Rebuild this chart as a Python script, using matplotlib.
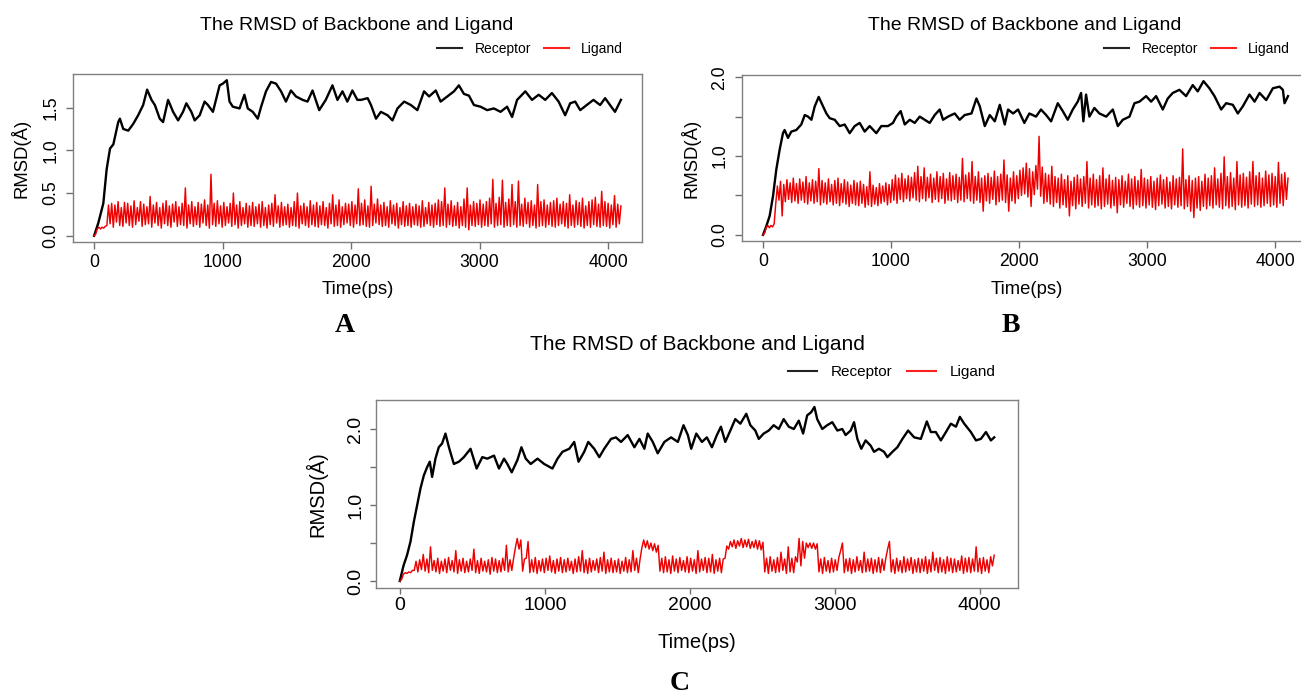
import numpy as np
import matplotlib
matplotlib.use('Agg')
import matplotlib.pyplot as plt
from matplotlib.lines import Line2D

plt.rcParams['font.family'] = ['Liberation Sans', 'DejaVu Sans']

W, H = 1301, 693

# backbone (receptor) RMSD: time [ps], value [A]
rec_a_t = [0, 33, 72, 98, 124, 150, 188, 201, 227, 266, 305, 343, 382, 413, 447, 473, 511, 537, 576, 615,
           654, 692, 718, 757, 783, 822, 860, 886, 925, 977, 1002, 1033, 1054, 1080, 1132, 1170, 1196, 1235,
           1274, 1300, 1338, 1377, 1416, 1455, 1493, 1532, 1571, 1623, 1661, 1700, 1752, 1803, 1855, 1894,
           1933, 1971, 2010, 2049, 2077, 2129, 2155, 2194, 2232, 2284, 2322, 2361, 2413, 2465, 2516, 2568,
           2607, 2659, 2697, 2749, 2801, 2839, 2878, 2917, 2956, 3008, 3059, 3111, 3163, 3214, 3253, 3292,
           3356, 3408, 3460, 3511, 3563, 3615, 3666, 3705, 3744, 3783, 3834, 3886, 3938, 3977, 4015, 4054, 4100]
rec_a_v = [0.00, 0.15, 0.38, 0.78, 1.02, 1.07, 1.33, 1.37, 1.25, 1.23, 1.31, 1.41, 1.53, 1.71, 1.59, 1.53, 1.37,
           1.33, 1.59, 1.45, 1.35, 1.45, 1.55, 1.45, 1.35, 1.41, 1.57, 1.53, 1.45, 1.76, 1.78, 1.82, 1.57, 1.51,
           1.49, 1.65, 1.49, 1.45, 1.37, 1.51, 1.69, 1.80, 1.78, 1.69, 1.57, 1.70, 1.63, 1.59, 1.57, 1.70, 1.47,
           1.59, 1.76, 1.59, 1.69, 1.57, 1.70, 1.59, 1.59, 1.61, 1.53, 1.37, 1.45, 1.41, 1.35, 1.49, 1.57, 1.53,
           1.47, 1.69, 1.63, 1.70, 1.57, 1.63, 1.69, 1.76, 1.66, 1.64, 1.53, 1.51, 1.47, 1.49, 1.45, 1.51, 1.39,
           1.59, 1.69, 1.59, 1.65, 1.59, 1.67, 1.57, 1.41, 1.55, 1.57, 1.47, 1.53, 1.59, 1.53, 1.61, 1.53, 1.45, 1.59]

rec_b_t = [0, 26, 52, 78, 104, 130, 156, 169, 195, 221, 260, 299, 326, 352, 378, 404, 435, 469, 495, 521, 560,
           599, 638, 677, 716, 755, 794, 833, 885, 924, 976, 1015, 1041, 1075, 1107, 1146, 1185, 1224, 1263,
           1302, 1341, 1380, 1406, 1445, 1497, 1536, 1575, 1628, 1667, 1693, 1732, 1771, 1810, 1849, 1888,
           1914, 1953, 1992, 2041, 2080, 2132, 2171, 2211, 2250, 2302, 2341, 2380, 2419, 2458, 2484, 2502,
           2523, 2549, 2588, 2627, 2680, 2732, 2771, 2810, 2862, 2901, 2940, 2992, 3031, 3070, 3122, 3161,
           3200, 3252, 3304, 3356, 3395, 3440, 3486, 3526, 3578, 3617, 3669, 3708, 3747, 3799, 3839, 3878,
           3930, 3982, 4034, 4060, 4073, 4100]
rec_b_v = [0.00, 0.11, 0.24, 0.49, 0.83, 1.08, 1.29, 1.33, 1.23, 1.31, 1.33, 1.40, 1.52, 1.50, 1.46, 1.63, 1.75,
           1.63, 1.54, 1.48, 1.46, 1.38, 1.40, 1.29, 1.38, 1.42, 1.31, 1.38, 1.29, 1.38, 1.38, 1.42, 1.50, 1.57,
           1.40, 1.46, 1.42, 1.50, 1.46, 1.42, 1.52, 1.59, 1.46, 1.50, 1.54, 1.46, 1.52, 1.54, 1.73, 1.63, 1.38,
           1.52, 1.44, 1.65, 1.40, 1.59, 1.54, 1.59, 1.42, 1.54, 1.50, 1.59, 1.52, 1.44, 1.67, 1.57, 1.46, 1.59,
           1.69, 1.80, 1.44, 1.78, 1.50, 1.61, 1.54, 1.50, 1.59, 1.38, 1.46, 1.50, 1.67, 1.69, 1.76, 1.69, 1.76,
           1.59, 1.73, 1.80, 1.84, 1.76, 1.90, 1.82, 1.95, 1.86, 1.76, 1.59, 1.67, 1.65, 1.54, 1.63, 1.78, 1.69,
           1.80, 1.71, 1.86, 1.88, 1.84, 1.67, 1.76]

rec_c_t = [0, 27, 50, 74, 97, 120, 143, 166, 189, 207, 223, 246, 269, 292, 315, 339, 373, 408, 442, 488, 530,
           569, 604, 650, 684, 719, 742, 772, 811, 839, 869, 903, 950, 996, 1053, 1088, 1122, 1169, 1203, 1233,
           1272, 1300, 1341, 1376, 1410, 1457, 1491, 1526, 1572, 1618, 1653, 1687, 1710, 1745, 1779, 1825,
           1871, 1918, 1957, 1987, 2010, 2045, 2084, 2118, 2153, 2187, 2215, 2245, 2280, 2314, 2349, 2390,
           2418, 2452, 2476, 2510, 2545, 2579, 2614, 2648, 2683, 2718, 2752, 2782, 2810, 2837, 2860, 2879,
           2914, 2948, 2983, 3018, 3052, 3075, 3110, 3133, 3156, 3183, 3213, 3248, 3271, 3305, 3340, 3363,
           3398, 3432, 3467, 3506, 3548, 3594, 3635, 3663, 3697, 3732, 3767, 3801, 3836, 3863, 3893, 3939,
           3974, 4008, 4043, 4077, 4100]
rec_c_v = [0.00, 0.21, 0.34, 0.52, 0.78, 1.00, 1.22, 1.39, 1.50, 1.57, 1.37, 1.61, 1.76, 1.81, 1.94, 1.76, 1.54,
           1.57, 1.63, 1.74, 1.48, 1.63, 1.61, 1.65, 1.48, 1.61, 1.54, 1.43, 1.59, 1.76, 1.61, 1.54, 1.61, 1.54,
           1.48, 1.61, 1.70, 1.74, 1.83, 1.57, 1.70, 1.83, 1.74, 1.63, 1.74, 1.87, 1.89, 1.83, 1.92, 1.76, 1.87,
           1.74, 1.94, 1.83, 1.68, 1.83, 1.89, 1.83, 2.05, 1.92, 1.74, 1.94, 1.83, 1.89, 1.76, 1.92, 2.03, 1.83,
           1.98, 2.13, 2.07, 2.20, 2.05, 1.98, 1.87, 1.94, 1.98, 2.05, 2.00, 2.13, 2.03, 2.00, 2.11, 1.94, 2.18,
           2.22, 2.29, 2.13, 2.00, 2.05, 2.09, 1.98, 2.00, 1.92, 1.98, 2.09, 1.87, 1.74, 1.85, 1.78, 1.70, 1.74,
           1.70, 1.63, 1.70, 1.76, 1.87, 1.98, 1.89, 1.87, 2.10, 1.96, 1.96, 1.85, 1.96, 2.07, 2.03, 2.16, 2.07,
           1.96, 1.85, 1.87, 1.96, 1.85, 1.89]

# ligand RMSD: lowest and highest reading inside each 25 ps slot, 0 .. 4100 ps
lig_step = 25
lig_a_hi = [0.02, 0.10, 0.10, 0.11, 0.36, 0.38, 0.36, 0.40, 0.33, 0.39,
            0.38, 0.35, 0.41, 0.33, 0.40, 0.37, 0.34, 0.46, 0.36, 0.39,
            0.33, 0.38, 0.41, 0.35, 0.37, 0.40, 0.34, 0.38, 0.56, 0.36,
            0.40, 0.34, 0.39, 0.37, 0.42, 0.36, 0.72, 0.38, 0.41, 0.35,
            0.39, 0.34, 0.38, 0.50, 0.36, 0.40, 0.33, 0.38, 0.35, 0.39,
            0.34, 0.37, 0.40, 0.33, 0.36, 0.38, 0.48, 0.35, 0.39, 0.34,
            0.37, 0.33, 0.40, 0.50, 0.35, 0.38, 0.34, 0.41, 0.36, 0.39,
            0.35, 0.40, 0.33, 0.38, 0.48, 0.36, 0.42, 0.34, 0.38, 0.37,
            0.40, 0.36, 0.55, 0.38, 0.42, 0.35, 0.58, 0.37, 0.43, 0.36,
            0.39, 0.34, 0.41, 0.36, 0.38, 0.33, 0.40, 0.35, 0.38, 0.34,
            0.37, 0.35, 0.41, 0.33, 0.39, 0.36, 0.38, 0.42, 0.40, 0.56,
            0.37, 0.41, 0.35, 0.39, 0.34, 0.43, 0.56, 0.36, 0.40, 0.38,
            0.42, 0.37, 0.40, 0.44, 0.66, 0.38, 0.45, 0.65, 0.39, 0.43,
            0.60, 0.40, 0.64, 0.37, 0.44, 0.39, 0.41, 0.36, 0.60, 0.40,
            0.42, 0.36, 0.39, 0.41, 0.44, 0.37, 0.40, 0.38, 0.48, 0.36,
            0.41, 0.39, 0.44, 0.35, 0.40, 0.42, 0.45, 0.37, 0.52, 0.40,
            0.38, 0.36, 0.47, 0.37, 0.35]
lig_a_lo = [0.00, 0.08, 0.08, 0.09, 0.12, 0.14, 0.10, 0.16, 0.12, 0.11,
            0.15, 0.12, 0.10, 0.13, 0.17, 0.11, 0.13, 0.14, 0.10, 0.15,
            0.12, 0.09, 0.14, 0.12, 0.10, 0.16, 0.11, 0.13, 0.12, 0.09,
            0.14, 0.11, 0.13, 0.10, 0.15, 0.12, 0.09, 0.13, 0.11, 0.14,
            0.10, 0.12, 0.15, 0.11, 0.13, 0.09, 0.12, 0.14, 0.10, 0.12,
            0.11, 0.14, 0.10, 0.12, 0.09, 0.13, 0.11, 0.15, 0.10, 0.12,
            0.13, 0.10, 0.12, 0.11, 0.09, 0.14, 0.12, 0.10, 0.13, 0.11,
            0.10, 0.13, 0.12, 0.09, 0.14, 0.11, 0.12, 0.10, 0.13, 0.15,
            0.12, 0.10, 0.14, 0.12, 0.13, 0.11, 0.10, 0.12, 0.15, 0.13,
            0.11, 0.12, 0.10, 0.14, 0.12, 0.09, 0.13, 0.11, 0.12, 0.10,
            0.13, 0.12, 0.10, 0.11, 0.14, 0.12, 0.10, 0.13, 0.11, 0.12,
            0.10, 0.13, 0.11, 0.12, 0.09, 0.12, 0.10, 0.07, 0.12, 0.11,
            0.13, 0.10, 0.12, 0.11, 0.14, 0.10, 0.12, 0.13, 0.10, 0.12,
            0.11, 0.13, 0.10, 0.12, 0.11, 0.14, 0.10, 0.12, 0.09, 0.11,
            0.12, 0.10, 0.13, 0.11, 0.10, 0.12, 0.14, 0.11, 0.09, 0.12,
            0.10, 0.13, 0.11, 0.09, 0.12, 0.10, 0.13, 0.11, 0.10, 0.12,
            0.11, 0.09, 0.13, 0.10, 0.14]

lig_b_hi = [0.02, 0.12, 0.12, 0.14, 0.62, 0.68, 0.64, 0.70, 0.66, 0.72,
            0.65, 0.71, 0.67, 0.74, 0.66, 0.70, 0.68, 0.84, 0.69, 0.66,
            0.71, 0.64, 0.69, 0.72, 0.65, 0.70, 0.67, 0.63, 0.69, 0.66,
            0.68, 0.64, 0.61, 0.80, 0.63, 0.60, 0.65, 0.62, 0.66, 0.64,
            0.70, 0.76, 0.72, 0.78, 0.71, 0.75, 0.73, 0.79, 0.87, 0.74,
            0.85, 0.73, 0.77, 0.72, 0.80, 0.74, 0.78, 0.71, 0.79, 0.75,
            0.77, 0.73, 0.97, 0.76, 0.79, 0.93, 0.74, 0.80, 0.72, 0.75,
            0.78, 0.73, 0.81, 0.74, 0.77, 0.95, 0.76, 0.72, 0.80, 0.75,
            0.82, 0.85, 0.91, 0.84, 0.80, 0.88, 1.25, 0.86, 0.78, 0.76,
            0.87, 0.74, 0.72, 0.77, 0.70, 0.75, 0.68, 0.73, 0.76, 0.71,
            0.74, 0.93, 0.72, 0.77, 0.70, 0.75, 0.85, 0.71, 0.76, 0.69,
            0.73, 0.70, 0.75, 0.68, 0.77, 0.71, 0.74, 0.69, 0.83, 0.72,
            0.70, 0.74, 0.68, 0.72, 0.76, 0.70, 0.73, 0.67, 0.75, 0.71,
            0.73, 1.09, 0.70, 0.75, 0.69, 0.72, 0.74, 0.68, 0.77, 0.72,
            0.75, 0.85, 0.71, 0.78, 0.99, 0.74, 0.79, 0.72, 0.93, 0.76,
            0.78, 0.73, 0.80, 0.93, 0.75, 0.79, 0.72, 0.81, 0.76, 0.78,
            0.74, 0.92, 0.77, 0.79, 0.72]
lig_b_lo = [0.00, 0.09, 0.09, 0.10, 0.40, 0.44, 0.24, 0.42, 0.45, 0.41,
            0.43, 0.40, 0.44, 0.41, 0.39, 0.43, 0.40, 0.42, 0.38, 0.41,
            0.39, 0.42, 0.38, 0.40, 0.37, 0.41, 0.39, 0.36, 0.40, 0.38,
            0.37, 0.40, 0.35, 0.38, 0.36, 0.39, 0.37, 0.40, 0.42, 0.38,
            0.41, 0.44, 0.40, 0.45, 0.42, 0.46, 0.43, 0.47, 0.44, 0.42,
            0.46, 0.43, 0.47, 0.41, 0.45, 0.42, 0.46, 0.40, 0.44, 0.43,
            0.45, 0.41, 0.44, 0.42, 0.46, 0.43, 0.40, 0.44, 0.41, 0.30,
            0.43, 0.40, 0.45, 0.38, 0.42, 0.44, 0.41, 0.30, 0.43, 0.40,
            0.46, 0.50, 0.52, 0.48, 0.36, 0.51, 0.58, 0.49, 0.40, 0.42,
            0.39, 0.36, 0.41, 0.34, 0.38, 0.35, 0.24, 0.37, 0.33, 0.39,
            0.36, 0.40, 0.34, 0.38, 0.35, 0.37, 0.33, 0.36, 0.39, 0.34,
            0.37, 0.28, 0.38, 0.35, 0.40, 0.36, 0.33, 0.38, 0.35, 0.37,
            0.34, 0.38, 0.35, 0.32, 0.37, 0.39, 0.34, 0.36, 0.33, 0.38,
            0.35, 0.37, 0.33, 0.36, 0.30, 0.22, 0.34, 0.31, 0.36, 0.33,
            0.37, 0.34, 0.38, 0.35, 0.33, 0.37, 0.34, 0.36, 0.32, 0.38,
            0.35, 0.37, 0.34, 0.39, 0.36, 0.38, 0.35, 0.37, 0.40, 0.36,
            0.38, 0.35, 0.40, 0.37, 0.45]

lig_c_hi = [0.02, 0.11, 0.12, 0.14, 0.26, 0.28, 0.35, 0.29, 0.45, 0.27,
            0.30, 0.26, 0.29, 0.31, 0.27, 0.40, 0.28, 0.30, 0.26, 0.29,
            0.42, 0.27, 0.30, 0.26, 0.28, 0.31, 0.29, 0.27, 0.30, 0.47,
            0.28, 0.30, 0.56, 0.54, 0.29, 0.52, 0.28, 0.31, 0.27, 0.29,
            0.30, 0.33, 0.27, 0.29, 0.31, 0.28, 0.30, 0.26, 0.29, 0.32,
            0.40, 0.28, 0.30, 0.27, 0.29, 0.31, 0.38, 0.28, 0.30, 0.27,
            0.29, 0.26, 0.31, 0.28, 0.40, 0.30, 0.29, 0.54, 0.53, 0.50,
            0.49, 0.47, 0.30, 0.32, 0.28, 0.33, 0.29, 0.31, 0.27, 0.32,
            0.30, 0.28, 0.40, 0.29, 0.31, 0.30, 0.35, 0.28, 0.30, 0.29,
            0.46, 0.52, 0.54, 0.53, 0.56, 0.54, 0.55, 0.52, 0.54, 0.53,
            0.51, 0.30, 0.32, 0.28, 0.31, 0.38, 0.29, 0.45, 0.30, 0.32,
            0.56, 0.52, 0.50, 0.50, 0.50, 0.49, 0.29, 0.31, 0.27, 0.30,
            0.28, 0.31, 0.50, 0.29, 0.30, 0.28, 0.32, 0.27, 0.38, 0.29,
            0.30, 0.28, 0.31, 0.29, 0.30, 0.52, 0.28, 0.30, 0.27, 0.32,
            0.29, 0.31, 0.28, 0.30, 0.29, 0.32, 0.28, 0.38, 0.30, 0.31,
            0.28, 0.32, 0.30, 0.29, 0.27, 0.33, 0.30, 0.31, 0.29, 0.45,
            0.30, 0.31, 0.28, 0.32, 0.34]
lig_c_lo = [0.00, 0.09, 0.10, 0.11, 0.14, 0.12, 0.15, 0.13, 0.11, 0.14,
            0.12, 0.10, 0.13, 0.11, 0.14, 0.12, 0.10, 0.13, 0.11, 0.12,
            0.14, 0.11, 0.10, 0.13, 0.12, 0.09, 0.13, 0.11, 0.12, 0.14,
            0.12, 0.14, 0.44, 0.42, 0.13, 0.30, 0.11, 0.12, 0.10, 0.13,
            0.11, 0.14, 0.12, 0.10, 0.13, 0.11, 0.12, 0.14, 0.10, 0.12,
            0.13, 0.11, 0.10, 0.12, 0.14, 0.11, 0.13, 0.10, 0.12, 0.11,
            0.12, 0.10, 0.13, 0.11, 0.12, 0.14, 0.11, 0.44, 0.44, 0.42,
            0.40, 0.38, 0.13, 0.11, 0.12, 0.10, 0.13, 0.11, 0.14, 0.12,
            0.11, 0.13, 0.10, 0.12, 0.14, 0.11, 0.12, 0.10, 0.13, 0.11,
            0.30, 0.42, 0.45, 0.43, 0.46, 0.44, 0.45, 0.43, 0.44, 0.42,
            0.41, 0.12, 0.10, 0.13, 0.11, 0.12, 0.14, 0.10, 0.12, 0.11,
            0.25, 0.20, 0.30, 0.44, 0.43, 0.42, 0.12, 0.10, 0.13, 0.11,
            0.12, 0.14, 0.40, 0.11, 0.13, 0.10, 0.12, 0.14, 0.11, 0.12,
            0.13, 0.10, 0.12, 0.11, 0.14, 0.42, 0.12, 0.10, 0.13, 0.11,
            0.12, 0.14, 0.10, 0.12, 0.11, 0.13, 0.10, 0.12, 0.14, 0.11,
            0.12, 0.10, 0.13, 0.11, 0.12, 0.14, 0.10, 0.12, 0.11, 0.13,
            0.12, 0.10, 0.13, 0.11, 0.20]

time_ticks = [0, 1000, 2000, 3000, 4000]
title = 'The RMSD of Backbone and Ligand'


def fx(x):
    return x / W


def fy(y):
    return 1 - y / H


def panel(box, rec_t, rec_v, lig_lo, lig_hi, yticks, ylabels, fs, pos):
    # box is left, top, right, bottom in pixels
    l, t, r, b = box
    ax = fig.add_axes([fx(l), fy(b), (r - l) / W, (b - t) / H])
    # low and high reading of every slot, drawn one after the other
    lig_v = np.column_stack([lig_lo, lig_hi]).ravel()
    lig_t = np.linspace(0, (len(lig_lo) - 1) * lig_step, len(lig_v))
    ax.plot(rec_t, rec_v, color='black', lw=1.7)
    ax.plot(lig_t, lig_v, color='#ee0000', lw=1.05)
    lo = min(min(rec_v), lig_v.min())
    hi = max(max(rec_v), lig_v.max())
    pad = (hi - lo) * 0.04
    ax.set_xlim(-0.04 * 4100, 4100 * 1.04)
    ax.set_ylim(lo - pad, hi + pad)
    ax.set_xticks(time_ticks)
    ax.set_xticklabels([str(v) for v in time_ticks])
    ax.set_yticks(yticks)
    ax.set_yticklabels(ylabels)
    for s in ax.spines.values():
        s.set_color('#808080')
        s.set_linewidth(1.0)
    ax.tick_params(direction='out', length=fs['tlen'], width=1, color='#707070',
                   labelsize=fs['tick'])
    ax.tick_params(axis='x', pad=fs['xpad'])
    ax.tick_params(axis='y', pad=fs['ypad'])
    for lab in ax.get_yticklabels():
        lab.set_rotation(90)
        lab.set_va('center')
        lab.set_ha('right')
    fig.text(fx(pos['title'][0]), fy(pos['title'][1]), title, fontsize=fs['title'],
             ha='center', va='center')
    fig.text(fx(pos['xlab'][0]), fy(pos['xlab'][1]), 'Time(ps)', fontsize=fs['lab'],
             ha='center', va='center')
    fig.text(fx(pos['ylab'][0]), fy(pos['ylab'][1]), 'RMSD(Å)', fontsize=fs['lab'],
             ha='center', va='center', rotation=90)
    fig.text(fx(pos['letter'][0]), fy(pos['letter'][1]), pos['name'], fontsize=20,
             fontweight='bold', family='Liberation Serif', ha='center', va='center')
    handles = [Line2D([], [], color='#222222', lw=1.5),
               Line2D([], [], color='#ff2020', lw=1.5)]
    fig.legend(handles, ['Receptor', 'Ligand'], ncol=2, frameon=False, fontsize=fs['leg'],
               loc='center right', bbox_to_anchor=(fx(pos['leg'][0]), fy(pos['leg'][1])),
               borderpad=0, borderaxespad=0, handlelength=fs['hl'], handletextpad=0.9,
               columnspacing=0.9)
    return ax


fig = plt.figure(figsize=(W / 100, H / 100), dpi=100)

small = dict(tick=12.7, lab=13.3, title=14, leg=10, hl=1.8, tlen=4.8, xpad=3.5, ypad=5.0)
big = dict(tick=14, lab=14.5, title=15, leg=11, hl=1.95, tlen=4.5, xpad=2.0, ypad=4.0)

panel((73, 74, 642, 242), rec_a_t, rec_a_v, lig_a_lo, lig_a_hi,
      [0, 0.5, 1.0, 1.5], ['0.0', '0.5', '1.0', '1.5'], small,
      dict(title=(357, 25), xlab=(358, 290), ylab=(20, 158), letter=(345, 326), name='A',
           leg=(623, 49)))
panel((742, 75, 1309, 241), rec_b_t, rec_b_v, lig_b_lo, lig_b_hi,
      [0, 0.5, 1.0, 1.5, 2.0], ['0.0', '', '1.0', '', '2.0'], small,
      dict(title=(1025, 25), xlab=(1027, 289), ylab=(690, 158), letter=(1011, 326), name='B',
           leg=(1290, 49)))
panel((376, 400, 1018, 588), rec_c_t, rec_c_v, lig_c_lo, lig_c_hi,
      [0, 0.5, 1.0, 1.5, 2.0], ['0.0', '', '1.0', '', '2.0'], big,
      dict(title=(697, 344), xlab=(697, 642), ylab=(316, 494), letter=(680, 683), name='C',
           leg=(996, 372)))

plt.savefig('out.png', dpi=100)
